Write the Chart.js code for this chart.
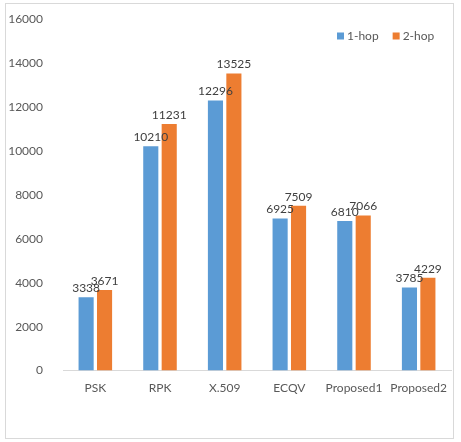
<!DOCTYPE html>
<html><head><meta charset="utf-8">
<script src="https://cdn.jsdelivr.net/npm/chart.js@4/dist/chart.umd.min.js"></script>
<style>
html,body{margin:0;padding:0;background:#fff;}
#wrap{position:absolute;left:0;top:0;width:461px;height:442px;}
#frame{position:absolute;left:5px;top:3px;width:449px;height:436px;border:1px solid #d9d9d9;box-sizing:border-box;}
canvas{position:absolute;left:0;top:0;}
</style></head>
<body>
<div id="wrap"><div id="frame"></div><canvas id="c" width="461" height="442"></canvas></div>
<script>
const categories = ["PSK","RPK","X.509","ECQV","Proposed1","Proposed2"];
const oneHop = [3338,10210,12296,6925,6810,3785];
const twoHop = [3671,11231,13525,7509,7066,4229];
const seriesNames = ["1-hop","2-hop"];

const FONT = "Lato, 'Liberation Sans', sans-serif";

const valueLabels = {
  id:'valueLabels',
  afterDatasetsDraw(chart){
    const ctx = chart.ctx;
    ctx.save();
    ctx.font = "12px " + FONT;
    ctx.fillStyle = "#404040";
    ctx.textAlign = "center";
    ctx.textBaseline = "bottom";
    chart.data.datasets.forEach((ds,i)=>{
      const meta = chart.getDatasetMeta(i);
      meta.data.forEach((bar,j)=>{
        ctx.fillText(String(ds.data[j]), bar.x, bar.y - 3);
      });
    });
    ctx.restore();
  }
};

const customLegend = {
  id:'customLegend',
  afterDraw(chart){
    const ctx = chart.ctx;
    ctx.save();
    ctx.font = "12px " + FONT;
    ctx.textBaseline = "middle";
    ctx.textAlign = "left";
    const y = 36;
    let x = 337;
    chart.data.datasets.forEach((ds)=>{
      ctx.fillStyle = ds.backgroundColor;
      ctx.fillRect(x, y-3.5, 7, 7);
      ctx.fillStyle = "#595959";
      ctx.fillText(ds.label, x+10, y);
      x += 10 + ctx.measureText(ds.label).width + 14;
    });
    ctx.restore();
  }
};

new Chart(document.getElementById('c'),{
  type:'bar',
  data:{
    labels:categories,
    datasets:[
      {label:seriesNames[0],data:oneHop,backgroundColor:'#5B9BD5'},
      {label:seriesNames[1],data:twoHop,backgroundColor:'#ED7D31'}
    ]
  },
  options:{
    responsive:false,
    animation:false,
    devicePixelRatio:1,
    categoryPercentage:0.57,
    barPercentage:0.82,
    layout:{padding:{left:3,top:12,right:10,bottom:45}},
    plugins:{
      legend:{display:false},
      tooltip:{enabled:false}
    },
    scales:{
      x:{
        grid:{display:false},
        border:{display:true,color:'#d9d9d9'},
        ticks:{color:'#595959',font:{size:12,family:FONT},padding:2,maxRotation:0,autoSkip:false}
      },
      y:{
        min:0,max:16000,
        grid:{display:false},
        border:{display:false},
        afterFit:(scale)=>{scale.width = 60;},
        ticks:{stepSize:2000,color:'#595959',font:{size:12,family:FONT},padding:12,
          callback:(v)=>String(v)}
      }
    }
  },
  plugins:[valueLabels, customLegend]
});
</script>
</body></html>
